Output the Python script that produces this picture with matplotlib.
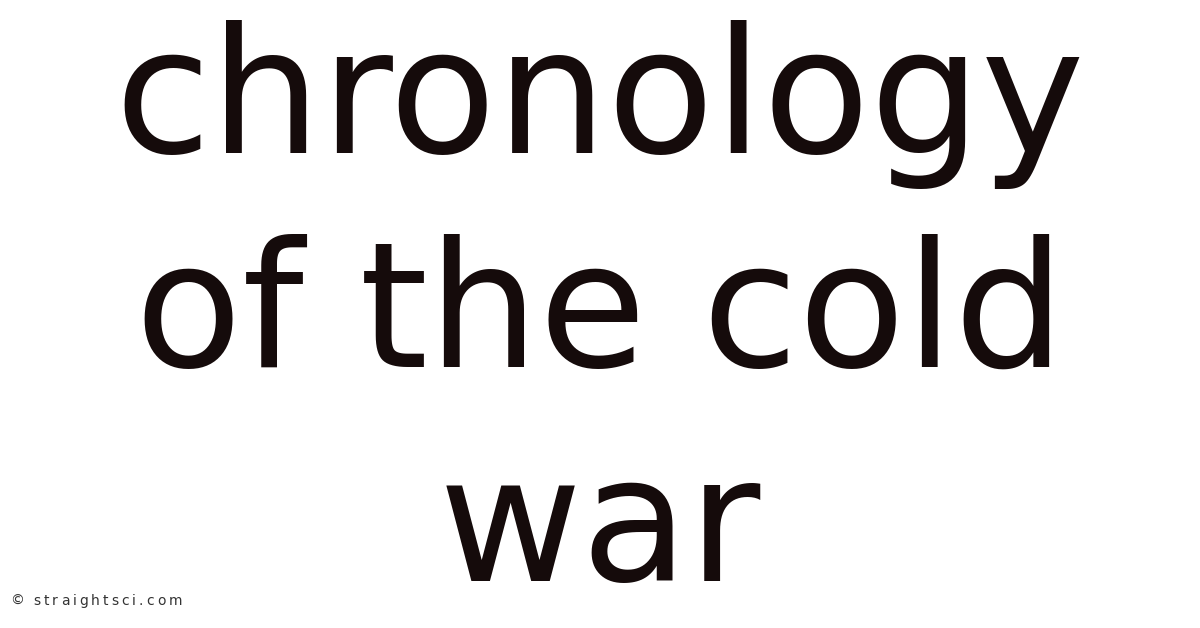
import matplotlib
matplotlib.use("Agg")
import matplotlib.pyplot as plt

lines = ["chronology", "of the cold", "war"]
baselines = [153, 367, 581]  # pixel rows from top
watermark = "© straightsci.com"

W, H = 1200, 628
fig = plt.figure(figsize=(W / 100, H / 100), dpi=100)
fig.patch.set_facecolor("white")

for txt, yb in zip(lines, baselines):
    fig.text(0.5, 1 - yb / H, txt, ha="center", va="baseline",
             fontsize=126, family="DejaVu Sans", color="#150b0b")

# watermark with a bit of letter spacing, char by char
renderer = fig.canvas.get_renderer()
x = 10
for ch in watermark:
    t = fig.text(x / W, 1 - 605 / H, ch, ha="left", va="baseline",
                 fontsize=10, family="DejaVu Sans", color="#333333",
                 fontweight="medium")
    w = t.get_window_extent(renderer).width if ch != " " else 3.5
    x += w + 3.0

fig.savefig("out.png", dpi=100, facecolor="white")
